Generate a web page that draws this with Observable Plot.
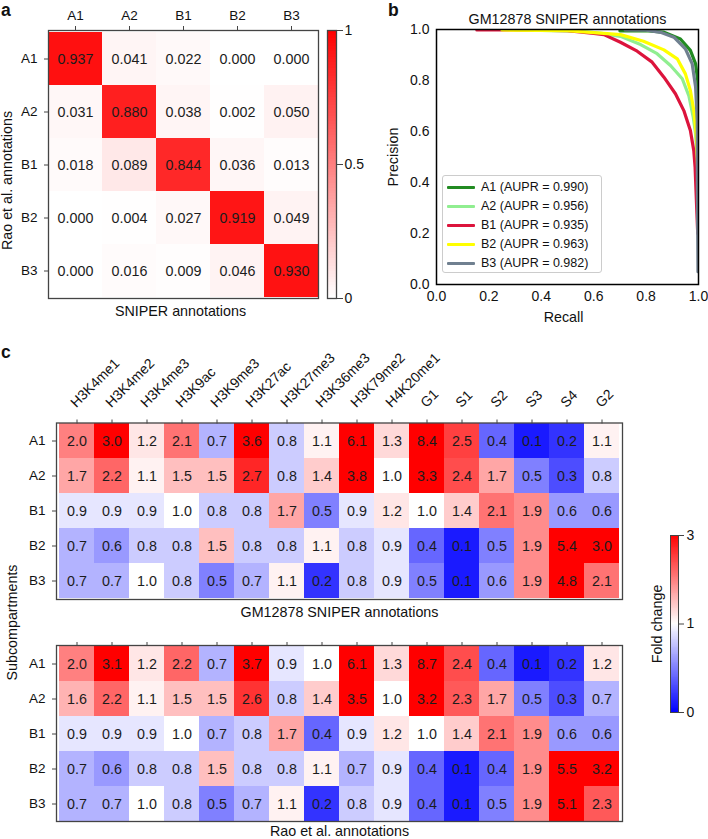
<!DOCTYPE html>
<html>
<head>
<meta charset="utf-8">
<script src="https://cdn.jsdelivr.net/npm/d3@7"></script>
<script src="https://cdn.jsdelivr.net/npm/@observablehq/plot@0.6"></script>
<style>
html,body{margin:0;padding:0;background:#fff;overflow:hidden}
#page{position:relative;width:708px;height:839px;font-family:"Liberation Sans",sans-serif;color:#111}
#page svg{position:absolute;overflow:visible;background:transparent}
.letter{position:absolute;font-weight:bold;font-size:17.5px}
#legend{position:absolute;left:442px;top:175px;width:160px;height:98px;box-sizing:border-box;border:1px solid #ccc;border-radius:3px;background:rgba(255,255,255,.9);font-size:12.5px}
#legend div.row{position:absolute;left:0;height:19px;line-height:19px;white-space:nowrap}
#legend i{position:absolute;left:4px;top:8px;width:28px;height:3px;border-radius:1px}
#legend span{position:absolute;left:38px;top:0}
</style>
</head>
<body>
<div id="page"></div>
<script>
// Panel a
const classes = ["A1", "A2", "B1", "B2", "B3"];
const confusionA1 = [0.937, 0.041, 0.022, 0.000, 0.000];
const confusionA2 = [0.031, 0.880, 0.038, 0.002, 0.050];
const confusionB1 = [0.018, 0.089, 0.844, 0.036, 0.013];
const confusionB2 = [0.000, 0.004, 0.027, 0.919, 0.049];
const confusionB3 = [0.000, 0.016, 0.009, 0.046, 0.930];

// Panel b
const aupr = ["0.990", "0.956", "0.935", "0.963", "0.982"];
const curveColors = ["#228B22", "#90EE90", "#DC143C", "#FFFF00", "#708090"];
const recallA1 = [0.70, 0.80, 0.866, 0.931, 0.969, 0.989, 0.997, 1.0, 1.0, 1.0];
const precisionA1 = [0.995, 0.995, 0.99, 0.963, 0.918, 0.865, 0.80, 0.59, 0.4, 0.25];
const recallA2 = [0.30, 0.55, 0.63, 0.702, 0.779, 0.842, 0.893, 0.938, 0.963, 0.98, 0.989, 0.996, 0.999];
const precisionA2 = [0.998, 0.994, 0.985, 0.973, 0.941, 0.905, 0.859, 0.807, 0.741, 0.656, 0.59, 0.48, 0.3];
const recallB1 = [0.154, 0.30, 0.50, 0.60, 0.639, 0.702, 0.766, 0.823, 0.868, 0.912, 0.944, 0.969, 0.982, 0.987, 0.994, 0.997];
const precisionB1 = [0.998, 0.998, 0.995, 0.985, 0.98, 0.95, 0.915, 0.872, 0.813, 0.748, 0.682, 0.604, 0.525, 0.46, 0.277, 0.2];
const recallB2 = [0.25, 0.50, 0.626, 0.702, 0.79, 0.868, 0.919, 0.95, 0.969, 0.982, 0.992, 0.997, 0.999];
const precisionB2 = [0.998, 0.995, 0.986, 0.98, 0.954, 0.92, 0.885, 0.826, 0.761, 0.682, 0.578, 0.45, 0.3];
const recallB3 = [0.72, 0.80, 0.855, 0.906, 0.95, 0.976, 0.989, 0.995, 0.996, 0.998];
const precisionB3 = [0.998, 0.997, 0.989, 0.97, 0.924, 0.865, 0.774, 0.643, 0.33, 0.05];
const probTicks = [0, 0.2, 0.4, 0.6, 0.8, 1];

// Panel c
const features = ["H3K4me1","H3K4me2","H3K4me3","H3K9ac","H3K9me3","H3K27ac","H3K27me3","H3K36me3","H3K79me2","H4K20me1","G1","S1","S2","S3","S4","G2"];
const sniperA1 = [2.0,3.0,1.2,2.1,0.7,3.6,0.8,1.1,6.1,1.3,8.4,2.5,0.4,0.1,0.2,1.1];
const sniperA2 = [1.7,2.2,1.1,1.5,1.5,2.7,0.8,1.4,3.8,1.0,3.3,2.4,1.7,0.5,0.3,0.8];
const sniperB1 = [0.9,0.9,0.9,1.0,0.8,0.8,1.7,0.5,0.9,1.2,1.0,1.4,2.1,1.9,0.6,0.6];
const sniperB2 = [0.7,0.6,0.8,0.8,1.5,0.8,0.8,1.1,0.8,0.9,0.4,0.1,0.5,1.9,5.4,3.0];
const sniperB3 = [0.7,0.7,1.0,0.8,0.5,0.7,1.1,0.2,0.8,0.9,0.5,0.1,0.6,1.9,4.8,2.1];
const raoA1 = [2.0,3.1,1.2,2.2,0.7,3.7,0.9,1.0,6.1,1.3,8.7,2.4,0.4,0.1,0.2,1.2];
const raoA2 = [1.6,2.2,1.1,1.5,1.5,2.6,0.8,1.4,3.5,1.0,3.2,2.3,1.7,0.5,0.3,0.7];
const raoB1 = [0.9,0.9,0.9,1.0,0.7,0.8,1.7,0.4,0.9,1.2,1.0,1.4,2.1,1.9,0.6,0.6];
const raoB2 = [0.7,0.6,0.8,0.8,1.5,0.8,0.8,1.1,0.7,0.9,0.4,0.1,0.4,1.9,5.5,3.2];
const raoB3 = [0.7,0.7,1.0,0.8,0.5,0.7,1.1,0.2,0.8,0.9,0.4,0.1,0.5,1.9,5.1,2.3];

const page = document.getElementById("page");
const FONT = '"Liberation Sans", sans-serif';
const INK = "#111";
const EDGE = "#444";
const TICKFONT = 13.5;
const LABELFONT = 14.3;

function place(svg, left, top) {
  svg.style.left = left + "px";
  svg.style.top = top + "px";
  page.appendChild(svg);
}
function letter(t, left, top) {
  const d = document.createElement("div");
  d.className = "letter";
  d.textContent = t;
  d.style.left = left + "px";
  d.style.top = top + "px";
  page.appendChild(d);
}
function tidy(rows, rowNames, colNames) {
  return rows.flatMap((r, i) => r.map((v, j) => ({row: rowNames[i], col: colNames[j], v})));
}
function label(t, o) {
  return Plot.text([t], {fontSize: LABELFONT, fill: INK, lineAnchor: "middle", textAnchor: "middle", ...o});
}

// ---------- Panel a heatmap
const aData = tidy([confusionA1, confusionA2, confusionB1, confusionB2, confusionB3], classes, classes);
place(Plot.plot({
  width: 320, height: 322,
  marginLeft: 48, marginRight: 2, marginTop: 30, marginBottom: 24,
  style: {fontFamily: FONT, color: INK, background: "transparent"},
  x: {type: "band", domain: classes, padding: 0, label: null},
  y: {type: "band", domain: classes, padding: 0, label: null},
  color: {type: "linear", domain: [0, 1], range: ["#ffffff", "#ff0000"]},
  marks: [
    Plot.cell(aData, {x: "col", y: "row", fill: "v"}),
    Plot.text(aData, {x: "col", y: "row", text: d => d.v.toFixed(3), fontSize: LABELFONT, fill: "#1c1c1c"}),
    Plot.frame({stroke: EDGE, strokeWidth: 1.3}),
    Plot.axisX({anchor: "top", tickSize: 5, tickPadding: 6, label: null, stroke: EDGE, fontSize: TICKFONT}),
    Plot.axisY({anchor: "left", tickSize: 4, tickPadding: 7, label: null, stroke: EDGE, fontSize: TICKFONT}),
    label("SNIPER annotations", {frameAnchor: "bottom", dy: 13, dx: -3}),
    label("Rao et al. annotations", {frameAnchor: "left", rotate: -90, dx: -41, dy: 16})
  ]
}), 0, 0);

// colour bar a
const aLevels = d3.range(0, 100).map(i => i / 100);
const aTicks = [0, 0.5, 1];
place(Plot.plot({
  width: 40, height: 322,
  marginLeft: 7, marginRight: 24, marginTop: 30, marginBottom: 24,
  style: {fontFamily: FONT, color: INK, background: "transparent"},
  x: {domain: [0, 1], axis: null},
  y: {domain: [0, 1], axis: null},
  color: {type: "linear", domain: [0, 1], range: ["#ffffff", "#ff0000"]},
  marks: [
    Plot.rect(aLevels, {x1: () => 0, x2: () => 1, y1: d => d, y2: d => d + 0.0102, fill: d => d + 0.005, shapeRendering: "crispEdges"}),
    Plot.frame({stroke: EDGE, strokeWidth: 1.3}),
    Plot.axisY(aTicks, {anchor: "right", tickSize: 6, tickPadding: 2, label: null, stroke: EDGE, tickFormat: d => String(d), fontSize: 14})
  ]
}), 320, 0);

// ---------- Panel b curves
const curves = [
  [recallA1, precisionA1], [recallA2, precisionA2], [recallB1, precisionB1], [recallB2, precisionB2], [recallB3, precisionB3]
];
place(Plot.plot({
  width: 328, height: 320,
  marginLeft: 56, marginRight: 10, marginTop: 29, marginBottom: 36,
  style: {fontFamily: FONT, color: INK, background: "transparent"},
  x: {domain: [0, 1], label: null},
  y: {domain: [0, 1], label: null},
  marks: [
    ...curves.map(([r, p], k) => Plot.line(r.map((v, i) => ({r: v, p: p[i]})), {
      x: "r", y: "p", stroke: curveColors[k], strokeWidth: 3.2, clip: true, strokeLinejoin: "round"
    })),
    Plot.frame({stroke: "#000", strokeWidth: 1.5}),
    Plot.axisX(probTicks, {anchor: "bottom", tickSize: 0, tickPadding: 7, label: null, tickFormat: d3.format(".1f"), fontSize: 14}),
    Plot.axisY(probTicks, {anchor: "left", tickSize: 0, tickPadding: 7, label: null, tickFormat: d3.format(".1f"), fontSize: 14}),
    label("GM12878 SNIPER annotations", {frameAnchor: "top", dy: -10}),
    label("Recall", {frameAnchor: "bottom", dy: 33, dx: -4}),
    label("Precision", {frameAnchor: "left", rotate: -90, dx: -43})
  ]
}), 380, 0);

// legend b
const legend = document.createElement("div");
legend.id = "legend";
classes.forEach((c, i) => {
  const row = document.createElement("div");
  row.className = "row";
  row.style.top = (1.5 + 19 * i) + "px";
  const sw = document.createElement("i");
  sw.style.background = curveColors[i];
  const tx = document.createElement("span");
  tx.textContent = `${c} (AUPR = ${aupr[i]})`;
  row.append(sw, tx);
  legend.appendChild(row);
});
page.appendChild(legend);

// ---------- Panel c heatmaps
function foldColor() {
  return {type: "linear", domain: [0, 1, 3], range: ["#0000ff", "#ffffff", "#ff0000"], clamp: true};
}
function foldHeat(rows, caption, showLabels, height, marginTop, captionDy) {
  const data = tidy(rows, classes, features);
  return Plot.plot({
    width: 630, height,
    marginLeft: 56, marginRight: 8, marginTop, marginBottom: 18,
    style: {fontFamily: FONT, color: INK, background: "transparent"},
    x: {type: "band", domain: features, padding: 0, label: null},
    y: {type: "band", domain: classes, padding: 0, label: null},
    color: foldColor(),
    marks: [
      Plot.cell(data, {x: "col", y: "row", fill: "v"}),
      Plot.text(data, {x: "col", y: "row", text: d => d.v.toFixed(1), fontSize: LABELFONT, fill: "#1c1c1c"}),
      Plot.frame({stroke: EDGE, strokeWidth: 1.3}),
      Plot.axisX({anchor: "top", tickSize: 4, label: null, stroke: EDGE, tickFormat: () => ""}),
      showLabels ? Plot.text(features, {x: d => d, frameAnchor: "top", lineAnchor: "middle", textAnchor: "start",
        rotate: -45, dx: -4, dy: -18, fontSize: 14, fill: INK}) : null,
      Plot.axisY({anchor: "left", tickSize: 4, tickPadding: 7, label: null, stroke: EDGE, fontSize: TICKFONT}),
      label(caption, {frameAnchor: "bottom", dy: captionDy})
    ]
  });
}
place(foldHeat([sniperA1, sniperA2, sniperB1, sniperB2, sniperB3], "GM12878 SNIPER annotations", true, 287, 92.5, 13), 0, 330);
place(foldHeat([raoA1, raoA2, raoB1, raoB2, raoB3], "Rao et al. annotations", false, 219, 25, 10), 0, 620);

// Fold-change colour bar
const foldTicks = [0, 1, 3];
place(Plot.plot({
  width: 60, height: 197,
  marginLeft: 27, marginRight: 25, marginTop: 10, marginBottom: 10,
  style: {fontFamily: FONT, color: INK, background: "transparent"},
  x: {domain: [0, 1], axis: null},
  y: {type: "linear", domain: [0, 1, 3], range: [187, 98.5, 10], axis: null},
  color: foldColor(),
  marks: [
    Plot.rect(d3.range(0, 100).map(i => i / 100), {x1: () => 0, x2: () => 1, y1: d => d, y2: d => d + 0.0102, fill: d => d + 0.005, shapeRendering: "crispEdges"}),
    Plot.rect(d3.range(0, 100).map(i => 1 + i / 50), {x1: () => 0, x2: () => 1, y1: d => d, y2: d => d + 0.0204, fill: d => d + 0.01, shapeRendering: "crispEdges"}),
    Plot.frame({stroke: EDGE, strokeWidth: 1}),
    Plot.axisY(foldTicks, {anchor: "right", tickSize: 5, tickPadding: 3, label: null, stroke: EDGE, tickFormat: d => String(d), fontSize: 14}),
    label("Fold change", {frameAnchor: "left", rotate: -90, dx: -13})
  ]
}), 643, 525);

place(Plot.plot({
  width: 24, height: 140,
  margin: 0,
  style: {fontFamily: FONT, color: INK, background: "transparent"},
  x: {axis: null}, y: {axis: null},
  marks: [label("Subcompartments", {frameAnchor: "middle", rotate: -90})]
}), 0, 552);

letter("a", 1, 0);
letter("b", 388, 0);
letter("c", 1, 342);
</script>
</body>
</html>
